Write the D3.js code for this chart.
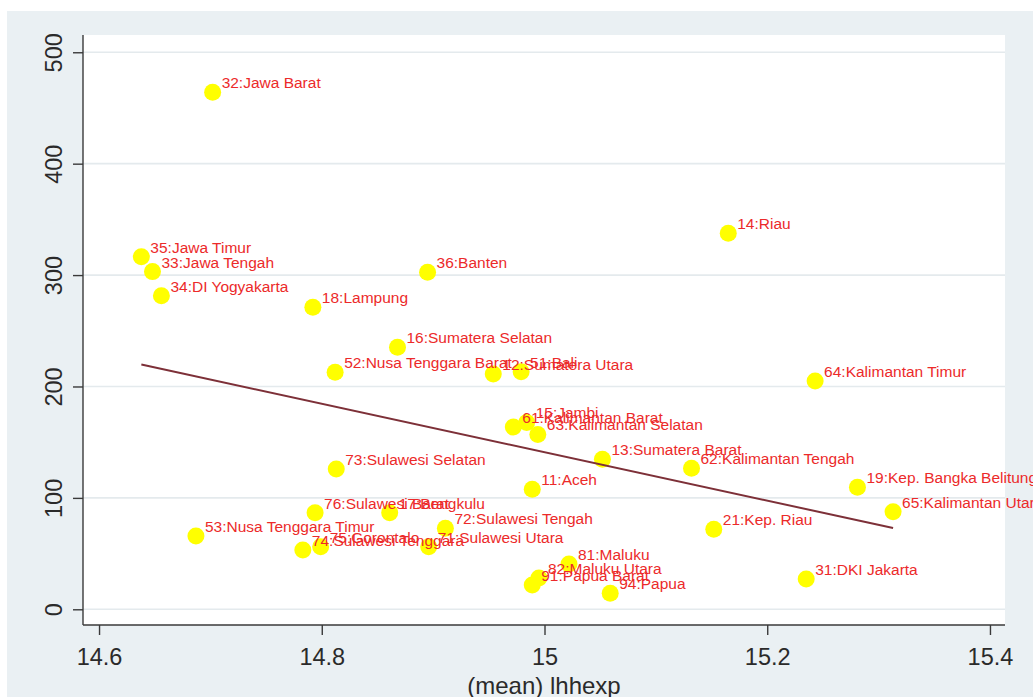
<!DOCTYPE html>
<html>
<head>
<meta charset="utf-8">
<script src="https://cdn.jsdelivr.net/npm/d3@7"></script>
<style>
  html, body { margin: 0; padding: 0; background: #ffffff; }
  svg { display: block; font-family: "Liberation Sans", Arial, sans-serif; }
</style>
</head>
<body>
<svg id="chart" width="1033" height="697"></svg>
<script>
// Province codes and names (BPS numbering)
const codes = [11, 12, 13, 14, 15, 16, 17, 18, 19, 21,
               31, 32, 33, 34, 35, 36, 51, 52, 53, 61,
               62, 63, 64, 65, 71, 72, 73, 74, 75, 76,
               81, 82, 91, 94];
const names = ["Aceh", "Sumatera Utara", "Sumatera Barat", "Riau", "Jambi",
               "Sumatera Selatan", "Bengkulu", "Lampung", "Kep. Bangka Belitung", "Kep. Riau",
               "DKI Jakarta", "Jawa Barat", "Jawa Tengah", "DI Yogyakarta", "Jawa Timur",
               "Banten", "Bali", "Nusa Tenggara Barat", "Nusa Tenggara Timur", "Kalimantan Barat",
               "Kalimantan Tengah", "Kalimantan Selatan", "Kalimantan Timur", "Kalimantan Utara", "Sulawesi Utara",
               "Sulawesi Tengah", "Sulawesi Selatan", "Sulawesi Tenggara", "Gorontalo", "Sulawesi Barat",
               "Maluku", "Maluku Utara", "Papua Barat", "Papua"];
// (mean) lhhexp per province
const lhhexp = [14.989, 14.954, 15.052, 15.165, 14.984, 14.868, 14.861, 14.792, 15.281, 15.152,
                15.235, 14.702, 14.648, 14.656, 14.638, 14.895, 14.979, 14.812, 14.687, 14.972,
                15.132, 14.994, 15.243, 15.313, 14.896, 14.911, 14.813, 14.783, 14.799, 14.794,
                15.022, 14.995, 14.989, 15.059];
// Vertical-axis variable per province
const yVals = [107.7, 211.2, 134.6, 337.5, 167.7, 235.2, 86.7, 271.1, 109.5, 71.8,
               27.2, 464.1, 303.1, 281.5, 316.5, 302.5, 213.3, 212.7, 65.8, 163.6,
               126.6, 156.9, 204.9, 87.6, 56.2, 72.7, 125.9, 53.2, 56.2, 86.7,
               40.7, 28.1, 21.8, 14.4];
// Axis ticks
const xTicks = [14.6, 14.8, 15, 15.2, 15.4];
const yTicks = [0, 100, 200, 300, 400, 500];
const xTitle = "(mean) lhhexp";

const W = 1033, H = 697;
const plot = { left: 83, right: 1005, top: 35, bottom: 625 };

const svg = d3.select("#chart");

// Graph region background
svg.append("rect").attr("x", 7).attr("y", 11)
  .attr("width", W - 7).attr("height", H - 11)
  .attr("fill", "#eaf0f3");
// Plot region
svg.append("rect").attr("x", plot.left).attr("y", plot.top)
  .attr("width", plot.right - plot.left).attr("height", plot.bottom - plot.top)
  .attr("fill", "#ffffff");

const x = d3.scaleLinear().domain([14.5856, 15.4135]).range([plot.left, plot.right]);
const y = d3.scaleLinear().domain([-14.1, 515.5]).range([plot.bottom, plot.top]);

// Horizontal gridlines
svg.append("g").selectAll("line").data(yTicks).join("line")
  .attr("x1", plot.left).attr("x2", plot.right)
  .attr("y1", d => y(d)).attr("y2", d => y(d))
  .attr("stroke", "#e4eaed").attr("stroke-width", 1.6);

const data = codes.map((c, i) => ({ code: c, name: names[i], x: lhhexp[i], y: yVals[i] }));

// Scatter markers
svg.append("g").selectAll("circle").data(data).join("circle")
  .attr("cx", d => x(d.x)).attr("cy", d => y(d.y)).attr("r", 8.5)
  .attr("fill", "#ffff00");

// Marker labels "code:name"
svg.append("g").selectAll("text").data(data).join("text")
  .attr("x", d => x(d.x) + 9).attr("y", d => y(d.y) - 4)
  .attr("font-size", 15.5).attr("fill", "#ec2a2a")
  .text(d => `${d.code}:${d.name}`);

// Linear fit over the observed x range
const mx = d3.mean(lhhexp), my = d3.mean(yVals);
const sxy = d3.sum(lhhexp, (v, i) => (v - mx) * (yVals[i] - my));
const sxx = d3.sum(lhhexp, v => (v - mx) * (v - mx));
const slope = sxy / sxx, intercept = my - slope * mx;
const [xmin, xmax] = d3.extent(lhhexp);
svg.append("path")
  .datum([xmin, xmax].map(v => [v, intercept + slope * v]))
  .attr("d", d3.line().x(d => x(d[0])).y(d => y(d[1])))
  .attr("fill", "none").attr("stroke", "#7d3038").attr("stroke-width", 2);

// Axes
const xAxis = svg.append("g").attr("transform", `translate(0,${plot.bottom})`)
  .call(d3.axisBottom(x).tickValues(xTicks).tickFormat(d3.format("")).tickSize(10).tickSizeOuter(0).tickPadding(5));
const yAxis = svg.append("g").attr("transform", `translate(${plot.left},0)`)
  .call(d3.axisLeft(y).tickValues(yTicks).tickFormat(d3.format("")).tickSize(10).tickSizeOuter(0));

[xAxis, yAxis].forEach(g => {
  g.select(".domain").attr("stroke", "#3a3a3a").attr("stroke-width", 1.4);
  g.selectAll(".tick line").attr("stroke", "#3a3a3a").attr("stroke-width", 1.4);
  g.selectAll(".tick text").attr("fill", "#2a2a2a").attr("font-size", 23.5)
    .attr("font-family", "'Liberation Sans', Arial, sans-serif");
});
xAxis.select(".domain").attr("d", `M${plot.left},0H${plot.right}`);
yAxis.select(".domain").attr("d", `M0,${plot.top}V${plot.bottom}`);

// Rotated y tick labels
yAxis.selectAll(".tick text")
  .attr("x", null).attr("dy", null)
  .attr("text-anchor", "middle")
  .attr("transform", "translate(-21,0) rotate(-90)");

xAxis.selectAll(".tick text").attr("dy", null).attr("y", 40);

// X axis title
svg.append("text")
  .attr("x", (plot.left + plot.right) / 2).attr("y", 694)
  .attr("text-anchor", "middle").attr("font-size", 24).attr("fill", "#2a2a2a")
  .text(xTitle);
</script>
</body>
</html>
